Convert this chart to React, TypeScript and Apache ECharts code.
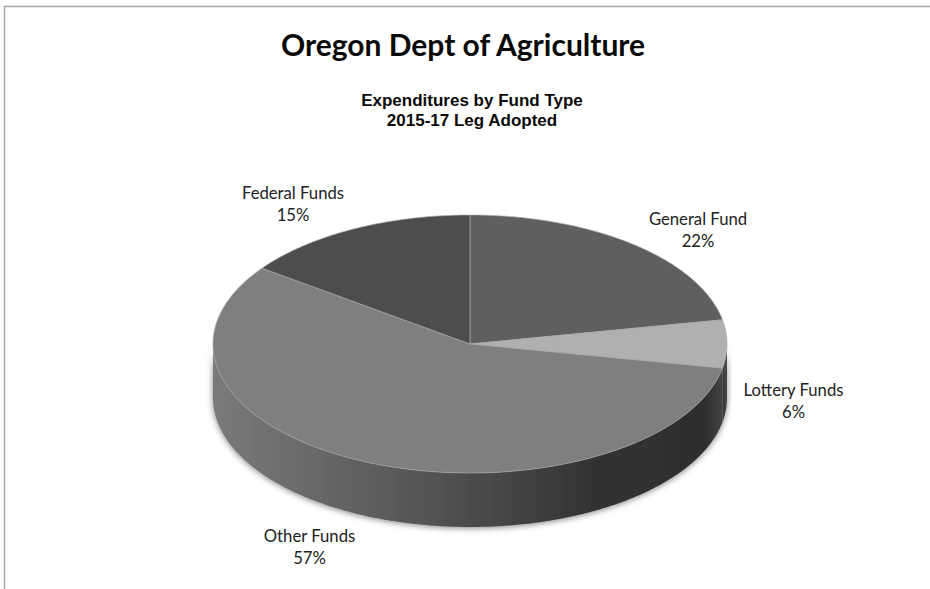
import React, { useEffect, useRef } from "react";
import * as echarts from "echarts";

const categories = ["General Fund", "Lottery Funds", "Other Funds", "Federal Funds"];
const shares = [22, 6, 57, 15];
const topColors = ["#5f5f5f", "#b0b0b0", "#7f7f7f", "#4d4d4d"];
// centre of each two-line label, relative to the pie centre
const labelOffsets = [
  [228, -114],
  [323.5, 57],
  [-160.5, 202.5],
  [-177, -140.5],
];

const CX = 470;
const CY = 344;
const RX = 257;
const RY = 129;
const DEPTH = 54;

const total = shares.reduce((a, b) => a + b, 0);
const startOf = (i: number) =>
  (shares.slice(0, i).reduce((a, b) => a + b, 0) / total) * Math.PI * 2;

const rimPoint = (t: number, dy = 0): number[] => [
  CX + RX * Math.sin(t),
  CY - RY * Math.cos(t) + dy,
];

const arcPoints = (a: number, b: number, dy = 0): number[][] => {
  const n = Math.max(2, Math.ceil(Math.abs(b - a) / 0.01));
  const out: number[][] = [];
  for (let k = 0; k <= n; k++) out.push(rimPoint(a + ((b - a) * k) / n, dy));
  return out;
};

const wallGradient = {
  type: "linear",
  x: CX - RX,
  y: 0,
  x2: CX + RX,
  y2: 0,
  global: true,
  colorStops: [
    { offset: 0, color: "#7a7a7a" },
    { offset: 0.18, color: "#6a6a6a" },
    { offset: 0.5, color: "#4c4c4c" },
    { offset: 0.75, color: "#323232" },
    { offset: 0.96, color: "#2e2e2e" },
    { offset: 1, color: "#4a4a4a" },
  ],
};

const renderWall = (_: any, api: any) => {
  const i = api.value(0);
  const a = Math.max(startOf(i), Math.PI / 2);
  const b = Math.min(startOf(i) + (api.value(1) / total) * Math.PI * 2, (Math.PI * 3) / 2);
  if (b <= a) return { type: "group", children: [] };
  const points = [...arcPoints(a, b), ...arcPoints(b, a, DEPTH)];
  return {
    type: "polygon",
    shape: { points },
    style: {
      fill: wallGradient,
      shadowBlur: 6,
      shadowColor: "rgba(0,0,0,0.5)",
      shadowOffsetY: 1,
    },
  };
};

const renderTop = (_: any, api: any) => {
  const i = api.value(0);
  const value = api.value(1);
  const a = startOf(i);
  const b = a + (value / total) * Math.PI * 2;
  const [ox, oy] = labelOffsets[i];
  return {
    type: "group",
    children: [
      {
        type: "polygon",
        shape: { points: [[CX, CY], ...arcPoints(a, b)] },
        style: { fill: topColors[i], stroke: "#a6a6a6", lineWidth: 0.7, lineJoin: "round" },
      },
      {
        type: "text",
        style: {
          text: `${categories[i]}\n${value}%`,
          x: CX + ox,
          y: CY + oy,
          align: "center",
          verticalAlign: "middle",
          font: '16.7px Lato, "Noto Sans", sans-serif',
          lineHeight: 22,
          fill: "#222222",
        },
      },
    ],
  };
};

export default function App() {
  const ref = useRef<HTMLDivElement>(null);
  useEffect(() => {
    document.body.style.margin = "0";
    const chart = echarts.init(ref.current!, null, { renderer: "svg" });
    const data = shares.map((v, i) => [i, v]);
    chart.setOption({
      animation: false,
      backgroundColor: "#ffffff",
      title: [
        {
          text: "Oregon Dept of Agriculture",
          left: 458,
          top: 24,
          textAlign: "center",
          textStyle: {
            fontFamily: 'Lato, "Noto Sans", sans-serif',
            fontSize: 30,
            fontWeight: "bold",
            color: "#0a0a0a",
          },
        },
        {
          text: "Expenditures by Fund Type\n2015-17 Leg Adopted",
          left: 467,
          top: 85,
          textAlign: "center",
          textStyle: {
            fontFamily: '"Liberation Sans", Arial, sans-serif',
            fontSize: 17,
            lineHeight: 20,
            fontWeight: "bold",
            color: "#0a0a0a",
          },
        },
      ],
      graphic: [
        { type: "line", shape: { x1: 4, y1: 6.5, x2: 930, y2: 6.5 }, style: { stroke: "#a8a8a8", lineWidth: 1.5 } },
        { type: "line", shape: { x1: 4.5, y1: 6, x2: 4.5, y2: 589 }, style: { stroke: "#a8a8a8", lineWidth: 1.5 } },
      ],
      series: [
        { type: "custom", coordinateSystem: "none", z: 1, data, renderItem: renderWall, silent: true },
        { type: "custom", coordinateSystem: "none", z: 2, data, renderItem: renderTop, silent: true },
      ],
    });
    return () => chart.dispose();
  }, []);
  return <div ref={ref} style={{ width: 930, height: 589 }} />;
}
